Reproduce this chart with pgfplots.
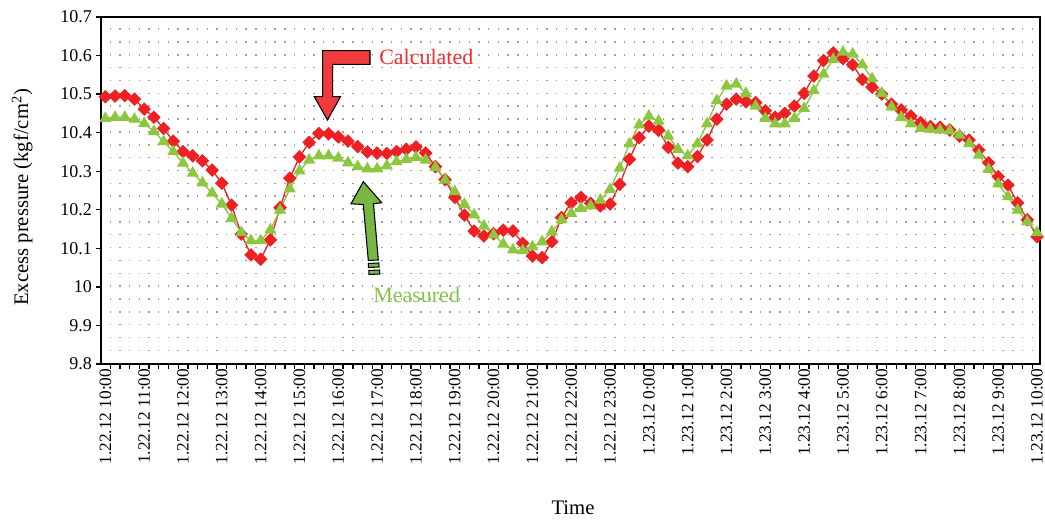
\documentclass[border=0pt]{standalone}
\usepackage{fontspec}
\setmainfont{Liberation Serif}
\usepackage{pgfplots}
\pgfplotsset{compat=1.18}
\usepackage{pgfplotstable}
\definecolor{calc}{HTML}{EE2024}
\definecolor{meas}{HTML}{8DC63F}
\definecolor{arrred}{HTML}{EF3B3E}
\definecolor{arrgreen}{HTML}{76B843}
\definecolor{calctext}{HTML}{EE3035}
\definecolor{meastext}{HTML}{86C447}

\pgfplotstableread{
i calc meas
0 10.493 10.437
1 10.495 10.440
2 10.496 10.440
3 10.487 10.435
4 10.461 10.424
5 10.440 10.403
6 10.411 10.377
7 10.378 10.351
8 10.351 10.321
9 10.340 10.295
10 10.327 10.270
11 10.303 10.243
12 10.269 10.215
13 10.212 10.178
14 10.137 10.141
15 10.083 10.120
16 10.072 10.120
17 10.122 10.148
18 10.206 10.199
19 10.282 10.254
20 10.337 10.301
21 10.375 10.329
22 10.398 10.340
23 10.397 10.340
24 10.389 10.334
25 10.378 10.322
26 10.364 10.312
27 10.350 10.306
28 10.347 10.306
29 10.346 10.314
30 10.351 10.325
31 10.357 10.331
32 10.363 10.336
33 10.347 10.329
34 10.312 10.310
35 10.278 10.277
36 10.232 10.247
37 10.186 10.214
38 10.145 10.187
39 10.132 10.158
40 10.138 10.135
41 10.147 10.111
42 10.145 10.096
43 10.113 10.094
44 10.080 10.104
45 10.076 10.117
46 10.117 10.143
47 10.180 10.174
48 10.218 10.191
49 10.232 10.204
50 10.217 10.210
51 10.210 10.225
52 10.215 10.253
53 10.266 10.308
54 10.331 10.371
55 10.387 10.420
56 10.417 10.443
57 10.406 10.430
58 10.362 10.391
59 10.321 10.357
60 10.312 10.340
61 10.338 10.371
62 10.381 10.423
63 10.435 10.483
64 10.474 10.521
65 10.487 10.526
66 10.480 10.502
67 10.478 10.469
68 10.457 10.437
69 10.440 10.423
70 10.450 10.423
71 10.469 10.437
72 10.502 10.463
73 10.547 10.509
74 10.587 10.552
75 10.607 10.590
76 10.592 10.609
77 10.576 10.604
78 10.538 10.576
79 10.518 10.540
80 10.500 10.502
81 10.474 10.467
82 10.459 10.440
83 10.443 10.423
84 10.426 10.411
85 10.416 10.409
86 10.414 10.407
87 10.407 10.405
88 10.391 10.394
89 10.381 10.372
90 10.355 10.342
91 10.322 10.305
92 10.286 10.267
93 10.264 10.234
94 10.218 10.199
95 10.174 10.169
96 10.130 10.141
}\datatable

\begin{document}
\begin{tikzpicture}
\useasboundingbox (-76.125pt,-117.75pt) rectangle (707.625pt,273pt);
\begin{axis}[
  at={(0pt,0pt)}, anchor=south west,
  scale only axis, width=703.875pt, height=260.25pt,
  xmin=-0.4, xmax=96.3, ymin=9.8, ymax=10.7,
  axis line style={line width=1.5pt},
  /pgf/number format/assume math mode=true,
  tick align=outside,
  xtick pos=left, ytick pos=left,
  major tick length=3.75pt,
  tick style={black, line width=1pt},
  xtick={0.5,1.5,...,95.5}, xticklabels={},
  xmajorgrids,
  major grid style={draw=gray!75, line width=1.1pt, dash pattern=on 1.1pt off 8.539pt},
  extra x ticks={0,4,...,96},
  extra x tick labels={1.22.12 10:00,1.22.12 11:00,1.22.12 12:00,1.22.12 13:00,1.22.12 14:00,1.22.12 15:00,1.22.12 16:00,1.22.12 17:00,1.22.12 18:00,1.22.12 19:00,1.22.12 20:00,1.22.12 21:00,1.22.12 22:00,1.22.12 23:00,1.23.12 0:00,1.23.12 1:00,1.23.12 2:00,1.23.12 3:00,1.23.12 4:00,1.23.12 5:00,1.23.12 6:00,1.23.12 7:00,1.23.12 8:00,1.23.12 9:00,1.23.12 10:00},
  extra x tick style={major tick length=0pt, grid=none},
  xticklabel style={rotate=90, anchor=east, font=\fontsize{13}{15}\selectfont},
  ytick={9.8,9.9,10,10.1,10.2,10.3,10.4,10.5,10.6,10.7},
  yticklabels={9.8,9.9,10,10.1,10.2,10.3,10.4,10.5,10.6,10.7},
  yticklabel style={font=\fontsize{13.5}{16}\selectfont},
  ylabel={Excess pressure (kgf/cm\textsuperscript{2})},
  ylabel style={at={(axis description cs:-0.0845,0.48)}, anchor=center, font=\fontsize{15.5}{18}\selectfont},
  xlabel={Time},
  xlabel style={at={(axis description cs:0.5024,-0.415)}, anchor=center, font=\fontsize{15.5}{18}\selectfont},
]
\addplot[color=calc, line width=1pt, mark=square*, mark size=3.1pt, mark options={rotate=45, solid, fill=calc, draw=calc}] table[x=i, y=calc] {\datatable};
\addplot[color=meas, line width=1pt, mark=triangle*, mark size=4.3pt, mark options={solid, fill=meas, draw=meas}] table[x=i, y=meas] {\datatable};
\end{axis}
\begin{scope}[x=0.75pt, y=-0.75pt, shift={(-76.125pt,273pt)}]
\draw[fill=arrred, draw=black, line width=0.8pt, line join=miter]
  (322.7,50.7) -- (370,50.7) -- (370,64.3) -- (332.7,64.3) -- (332.7,96.7) -- (340.5,96.7) -- (327.5,120) -- (314.3,96.7) -- (322.7,96.7) -- cycle;
\draw[fill=arrgreen, draw=black, line width=0.8pt, line join=miter]
  (363.3,181.7) -- (381.7,202.7) -- (373.5,203.7) -- (378.3,260) -- (368.3,260.5) -- (363.3,204.5) -- (351,203.8) -- cycle;
\draw[fill=arrgreen, draw=black, line width=0.8pt]
  (368.3,263.5) -- (378.8,263) -- (379,267) -- (368.5,267.5) -- cycle;
\draw[fill=arrgreen, draw=black, line width=0.8pt]
  (368.8,270.5) -- (379.5,270) -- (379.8,274) -- (369,274.5) -- cycle;
\node[anchor=west, text=calctext, font=\fontsize{16.5}{18}\selectfont, inner sep=0pt] at (379,57) {Calculated};
\node[anchor=west, text=meastext, font=\fontsize{16.5}{18}\selectfont, inner sep=0pt] at (373,295) {Measured};
\end{scope}
\end{tikzpicture}
\end{document}
